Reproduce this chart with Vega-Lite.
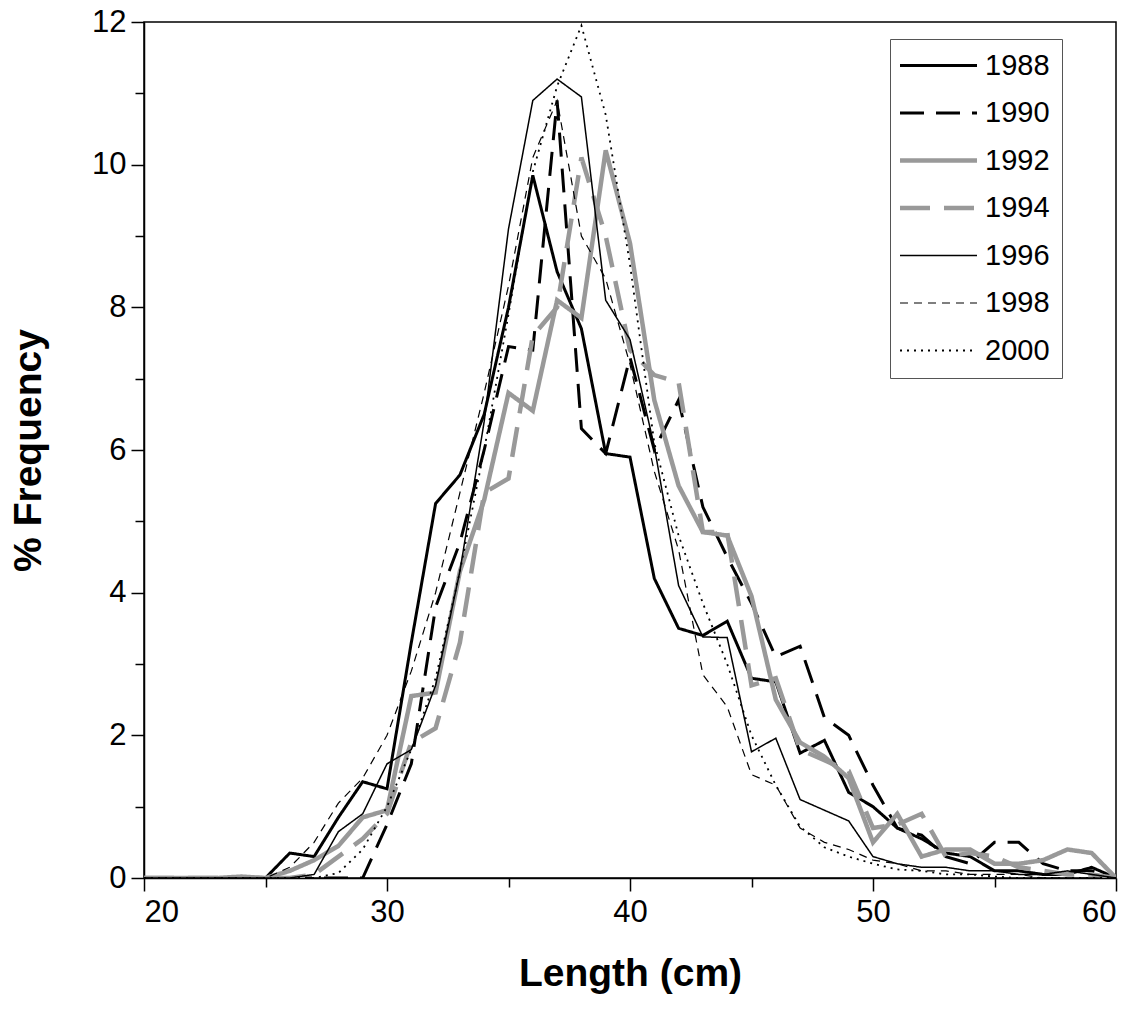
{
  "$schema": "https://vega.github.io/schema/vega-lite/v6.json",
  "width": 972,
  "height": 856,
  "autosize": {"type": "none"},
  "padding": {"left": 144, "top": 22, "right": 28, "bottom": 147},
  "background": "white",
  "config": {
    "view": {"stroke": "black", "strokeWidth": 1.5},
    "font": "Liberation Sans",
    "axis": {
      "grid": false,
      "domainColor": "black",
      "domainWidth": 1.5,
      "tickColor": "black",
      "tickWidth": 1.5,
      "labelColor": "black",
      "titleColor": "black",
      "labelFont": "Liberation Sans",
      "titleFont": "Liberation Sans",
      "labelFontSize": 31,
      "titleFontSize": 39,
      "titleFontWeight": "bold"
    }
  },
  "data": {
    "values": [
      {"len": 20, "1988": 0, "1990": 0, "1992": 0, "1994": 0, "1996": 0, "1998": 0, "2000": 0},
      {"len": 21, "1988": 0, "1990": 0, "1992": 0, "1994": 0, "1996": 0, "1998": 0, "2000": 0},
      {"len": 22, "1988": 0, "1990": 0, "1992": 0, "1994": 0, "1996": 0, "1998": 0, "2000": 0},
      {"len": 23, "1988": 0, "1990": 0, "1992": 0, "1994": 0, "1996": 0, "1998": 0, "2000": 0},
      {"len": 24, "1988": 0, "1990": 0, "1992": 0.02, "1994": 0, "1996": 0, "1998": 0, "2000": 0},
      {"len": 25, "1988": 0, "1990": 0, "1992": 0, "1994": 0, "1996": 0, "1998": 0, "2000": 0},
      {"len": 26, "1988": 0.35, "1990": 0, "1992": 0.1, "1994": 0, "1996": 0, "1998": 0.15, "2000": 0},
      {"len": 27, "1988": 0.3, "1990": 0, "1992": 0.25, "1994": 0.05, "1996": 0.05, "1998": 0.5, "2000": 0},
      {"len": 28, "1988": 0.85, "1990": 0, "1992": 0.45, "1994": 0.3, "1996": 0.65, "1998": 1.05, "2000": 0.07},
      {"len": 29, "1988": 1.35, "1990": 0, "1992": 0.85, "1994": 0.55, "1996": 0.9, "1998": 1.4, "2000": 0.4},
      {"len": 30, "1988": 1.25, "1990": 0.75, "1992": 0.95, "1994": 0.9, "1996": 1.6, "1998": 2.0, "2000": 1.0},
      {"len": 31, "1988": 3.3, "1990": 1.6, "1992": 2.55, "1994": 1.9, "1996": 1.8, "1998": 2.9, "2000": 1.8},
      {"len": 32, "1988": 5.25, "1990": 3.8, "1992": 2.6, "1994": 2.1, "1996": 2.7, "1998": 4.0, "2000": 2.8},
      {"len": 33, "1988": 5.65, "1990": 4.7, "1992": 4.3, "1994": 3.3, "1996": 4.3, "1998": 5.4, "2000": 4.3},
      {"len": 34, "1988": 6.5, "1990": 6.0, "1992": 5.3, "1994": 5.4, "1996": 6.4, "1998": 6.8, "2000": 6.0},
      {"len": 35, "1988": 8.0, "1990": 7.45, "1992": 6.8, "1994": 5.6, "1996": 9.1, "1998": 8.3, "2000": 7.9},
      {"len": 36, "1988": 9.85, "1990": 7.4, "1992": 6.55, "1994": 7.6, "1996": 10.9, "1998": 10.1, "2000": 9.9},
      {"len": 37, "1988": 8.5, "1990": 10.9, "1992": 8.1, "1994": 8.0, "1996": 11.2, "1998": 10.9, "2000": 11.1},
      {"len": 38, "1988": 7.7, "1990": 6.3, "1992": 7.85, "1994": 10.1, "1996": 10.95, "1998": 9.0, "2000": 11.95},
      {"len": 39, "1988": 5.95, "1990": 5.95, "1992": 10.2, "1994": 9.0, "1996": 8.1, "1998": 8.4, "2000": 10.7},
      {"len": 40, "1988": 5.9, "1990": 7.3, "1992": 8.9, "1994": 7.4, "1996": 7.55, "1998": 7.2, "2000": 8.6},
      {"len": 41, "1988": 4.2, "1990": 6.0, "1992": 6.7, "1994": 7.05, "1996": 6.05, "1998": 5.7, "2000": 6.1},
      {"len": 42, "1988": 3.5, "1990": 6.7, "1992": 5.5, "1994": 6.95, "1996": 4.1, "1998": 4.6, "2000": 4.8},
      {"len": 43, "1988": 3.4, "1990": 5.2, "1992": 4.85, "1994": 4.85, "1996": 3.38, "1998": 2.85, "2000": 3.85},
      {"len": 44, "1988": 3.6, "1990": 4.5, "1992": 4.8, "1994": 4.85, "1996": 3.37, "1998": 2.4, "2000": 3.0},
      {"len": 45, "1988": 2.8, "1990": 3.85, "1992": 3.95, "1994": 2.7, "1996": 1.77, "1998": 1.45, "2000": 2.0},
      {"len": 46, "1988": 2.75, "1990": 3.1, "1992": 2.5, "1994": 2.8, "1996": 1.96, "1998": 1.3, "2000": 1.3},
      {"len": 47, "1988": 1.75, "1990": 3.25, "1992": 1.9, "1994": 1.8, "1996": 1.1, "1998": 0.7, "2000": 0.72},
      {"len": 48, "1988": 1.93, "1990": 2.25, "1992": 1.7, "1994": 1.65, "1996": 0.95, "1998": 0.5, "2000": 0.43},
      {"len": 49, "1988": 1.2, "1990": 2.0, "1992": 1.4, "1994": 1.5, "1996": 0.8, "1998": 0.4, "2000": 0.3},
      {"len": 50, "1988": 1.0, "1990": 1.3, "1992": 0.5, "1994": 0.7, "1996": 0.3, "1998": 0.25, "2000": 0.2},
      {"len": 51, "1988": 0.7, "1990": 0.7, "1992": 0.9, "1994": 0.75, "1996": 0.2, "1998": 0.2, "2000": 0.12},
      {"len": 52, "1988": 0.55, "1990": 0.6, "1992": 0.3, "1994": 0.9, "1996": 0.15, "1998": 0.1, "2000": 0.1},
      {"len": 53, "1988": 0.35, "1990": 0.3, "1992": 0.4, "1994": 0.3, "1996": 0.15, "1998": 0.1, "2000": 0.05},
      {"len": 54, "1988": 0.3, "1990": 0.2, "1992": 0.4, "1994": 0.35, "1996": 0.1, "1998": 0.05, "2000": 0.05},
      {"len": 55, "1988": 0.1, "1990": 0.5, "1992": 0.2, "1994": 0.3, "1996": 0.1, "1998": 0.05, "2000": 0.02},
      {"len": 56, "1988": 0.1, "1990": 0.5, "1992": 0.2, "1994": 0.15, "1996": 0.05, "1998": 0.05, "2000": 0},
      {"len": 57, "1988": 0.05, "1990": 0.2, "1992": 0.25, "1994": 0.1, "1996": 0.05, "1998": 0, "2000": 0},
      {"len": 58, "1988": 0.05, "1990": 0.1, "1992": 0.4, "1994": 0.05, "1996": 0.1, "1998": 0, "2000": 0},
      {"len": 59, "1988": 0.15, "1990": 0.1, "1992": 0.35, "1994": 0.05, "1996": 0.05, "1998": 0, "2000": 0},
      {"len": 60, "1988": 0, "1990": 0, "1992": 0, "1994": 0, "1996": 0, "1998": 0, "2000": 0}
    ]
  },
  "transform": [
    {"fold": ["1988", "1990", "1992", "1994", "1996", "1998", "2000"], "as": ["year", "pct"]}
  ],
  "mark": {"type": "line", "strokeCap": "butt", "strokeJoin": "miter", "clip": true},
  "encoding": {
    "x": {
      "field": "len",
      "type": "quantitative",
      "scale": {"domain": [20, 60], "nice": false, "zero": false},
      "axis": {
        "title": "Length (cm)",
        "values": [20, 25, 30, 35, 40, 45, 50, 55, 60],
        "labelExpr": "datum.value % 10 === 0 ? datum.label : ''",
        "tickSize": {"condition": {"test": "datum.value % 10 === 0", "value": 13}, "value": 9},
        "labelPadding": 6,
        "titlePadding": 27
      }
    },
    "y": {
      "field": "pct",
      "type": "quantitative",
      "scale": {"domain": [0, 12], "nice": false},
      "axis": {
        "title": "% Frequency",
        "values": [0, 1, 2, 3, 4, 5, 6, 7, 8, 9, 10, 11, 12],
        "labelExpr": "datum.value % 2 === 0 ? datum.label : ''",
        "tickSize": {"condition": {"test": "datum.value % 2 === 0", "value": 13}, "value": 9},
        "labelPadding": 5,
        "titlePadding": 43
      }
    },
    "color": {
      "field": "year",
      "type": "nominal",
      "scale": {
        "domain": ["1988", "1990", "1992", "1994", "1996", "1998", "2000"],
        "range": ["#000000", "#000000", "#999999", "#999999", "#000000", "#000000", "#000000"]
      },
      "legend": {
        "title": null,
        "orient": "none",
        "legendX": 746,
        "legendY": 17,
        "symbolType": "M-3.85,0H3.85",
        "symbolSize": 400,
        "symbolOffset": 22,
        "labelFontSize": 29,
        "labelFont": "Liberation Sans",
        "labelColor": "black",
        "labelOffset": 32,
        "rowPadding": 17.5,
        "padding": 12,
        "strokeColor": "#555555",
        "fillColor": "white"
      }
    },
    "strokeDash": {
      "field": "year",
      "type": "nominal",
      "scale": {
        "domain": ["1988", "1990", "1992", "1994", "1996", "1998", "2000"],
        "range": [[1, 0], [24, 12], [1, 0], [30, 14], [1, 0], [8, 6], [2, 5]]
      },
      "legend": null
    },
    "strokeWidth": {
      "field": "year",
      "type": "nominal",
      "scale": {
        "type": "ordinal",
        "domain": ["1988", "1990", "1992", "1994", "1996", "1998", "2000"],
        "range": [3, 3, 4.5, 4.5, 1.5, 1.2, 1.8]
      },
      "legend": null
    }
  }
}
